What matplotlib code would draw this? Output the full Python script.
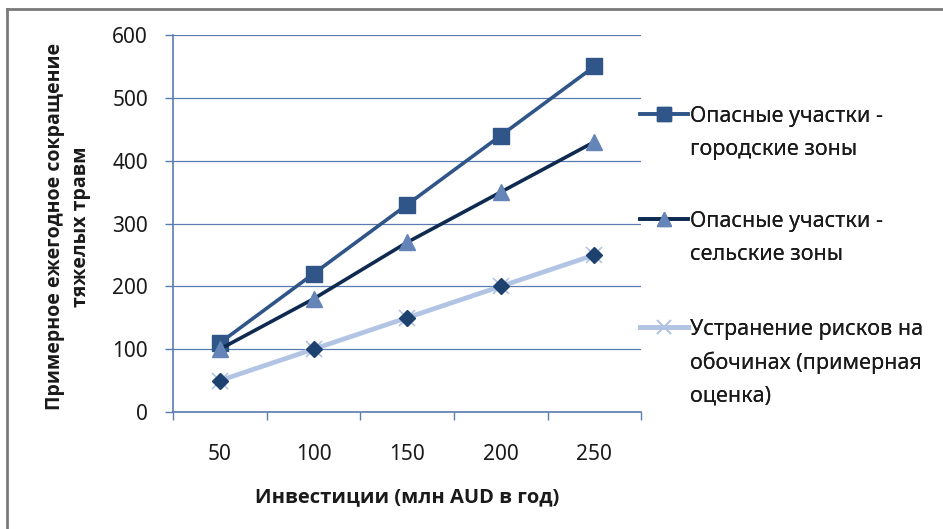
import matplotlib.pyplot as plt
from matplotlib.lines import Line2D

# Данные графика
investments = ['50', '100', '150', '200', '250']
urban = [110, 220, 330, 440, 550]
rural = [100, 180, 270, 350, 430]
roadside = [50, 100, 150, 200, 250]
roadside_hidden = [50, 100, 150, 200, 250]   # серия с ромбами без подписи

label_urban = 'Опасные участки -\nгородские зоны'
label_rural = 'Опасные участки -\nсельские зоны'
label_roadside = 'Устранение рисков на\nобочинах (примерная\nоценка)'

plt.rcParams['font.family'] = ['Noto Sans', 'DejaVu Sans']
bold_family = ['Open Sans', 'Roboto', 'DejaVu Sans']

grid_col = '#5A7CB0'
text_col = '#1a1a1a'

fig = plt.figure(figsize=(9.43, 5.29), dpi=100)
ax = fig.add_axes([0.1835, 0.2212, 0.4965, 0.7126])

x = list(range(len(investments)))

ax.plot(x, urban, color='#2F5589', lw=2.6, marker='s', ms=12, zorder=4)
ax.plot(x, rural, color='#0E2A50', lw=2.6, marker='^', ms=12,
        mfc='#6584B8', mec='#6584B8', zorder=4)
ax.plot(x, roadside, color='#B2C4E4', lw=3.4, marker='x', ms=11, mew=1.2, zorder=3)
ax.plot(x, roadside_hidden, linestyle='none', marker='D', ms=8,
        color='#1E4270', zorder=3.5)

ax.set_xlim(-0.5, len(investments) - 0.5)
ax.set_ylim(0, 600)
ax.set_yticks(range(0, 601, 100))
ax.set_xticks(x)
ax.set_xticklabels(investments)
ax.set_xticks([i - 0.5 for i in range(len(investments) + 1)], minor=True)

ax.grid(axis='y', color=grid_col, lw=0.9, zorder=1)
for side in ['top', 'right']:
    ax.spines[side].set_visible(False)
for side in ['left', 'bottom']:
    ax.spines[side].set_color(grid_col)
    ax.spines[side].set_linewidth(1.2)

ax.tick_params(axis='y', length=6, width=1, color=grid_col, pad=12,
               labelsize=15, labelcolor=text_col)
ax.tick_params(axis='x', which='major', length=0, pad=23,
               labelsize=15, labelcolor=text_col)
ax.tick_params(axis='x', which='minor', length=6, width=1, color=grid_col)

fig.text(0.432, 0.060, 'Инвестиции (млн AUD в год)', ha='center', va='center',
         fontsize=14.5, fontweight='bold', color=text_col, family=bold_family)
fig.text(0.072, 0.572, 'Примерное ежегодное сокращение\nтяжелых травм',
         rotation=90, ha='center', va='center', fontsize=14,
         fontweight='bold', color=text_col, linespacing=1.35,
         family=bold_family)

# легенда: маркер на уровне первой строки подписи
blank = Line2D([], [], linestyle='none')
entries = [
    (Line2D([], [], color='#2F5589', lw=2.6, marker='s', ms=10), label_urban, 115),
    (Line2D([], [], color='#0E2A50', lw=2.6, marker='^', ms=10,
            mfc='#6584B8', mec='#6584B8'), label_rural, 220),
    (Line2D([], [], color='#B2C4E4', lw=3.4, marker='x', ms=10, mew=1.2,
            mec='#B2C4E4'), label_roadside, 328),
]
for handle, label, ypix in entries:
    lines = label.split('\n')
    handles = [handle] + [blank] * (len(lines) - 1)
    leg = fig.legend(handles, lines, loc='upper left',
                     bbox_to_anchor=(0.679, 1 - (ypix - 9) / 529),
                     frameon=False, fontsize=15.5, handlelength=2.2,
                     handletextpad=0.1, labelspacing=0.55, borderpad=0,
                     borderaxespad=0, labelcolor=text_col)
    fig.add_artist(leg)

# рамка диаграммы
fig.add_artist(Line2D([0.0075, 1], [0.983, 0.983], transform=fig.transFigure,
                      color='#7a7a7a', lw=2))
fig.add_artist(Line2D([0.0075, 0.0075], [0, 0.983], transform=fig.transFigure,
                      color='#7a7a7a', lw=2))

fig.savefig('out.png', dpi=100)
